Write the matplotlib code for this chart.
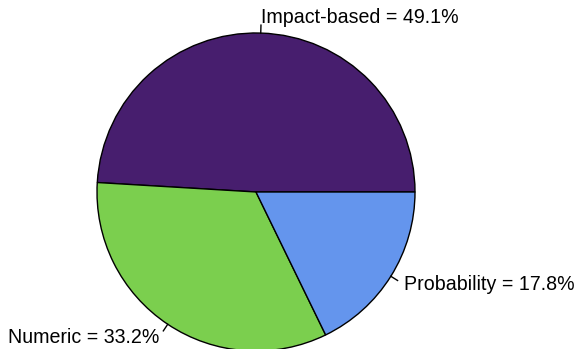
import numpy as np
import matplotlib
matplotlib.use("Agg")
import matplotlib.pyplot as plt

categories = ["Impact-based", "Numeric", "Probability"]
values = [49.1, 33.2, 17.8]
colors = ["#471E6E", "#7BCF4E", "#6495ED"]

W, H = 574, 349
fig = plt.figure(figsize=(W / 100, H / 100), dpi=100)
ax = fig.add_axes([0, 0, 1, 1])
cx, cy, r = 256, H - 192, 159
wedges, _ = ax.pie(values, colors=colors, startangle=0, counterclock=True,
                   center=(cx, cy), radius=r, frame=True,
                   wedgeprops=dict(edgecolor="black", linewidth=1.0))
ax.set_xlim(0, W)
ax.set_ylim(0, H)
ax.set_aspect("equal")
ax.axis("off")

for w, cat, v in zip(wedges, categories, values):
    mid = np.deg2rad((w.theta1 + w.theta2) / 2)
    c, s = np.cos(mid), np.sin(mid)
    ax.plot([cx + r * c, cx + 1.05 * r * c], [cy + r * s, cy + 1.05 * r * s],
            color="black", lw=1.0, clip_on=False)
    ax.text(cx + 1.1 * r * c, cy + 1.1 * r * s, f"{cat} = {v}%",
            ha="left" if c > 0 else "right", va="center",
            fontsize=14.1, family="Liberation Sans")

fig.savefig("out.png", dpi=100)
